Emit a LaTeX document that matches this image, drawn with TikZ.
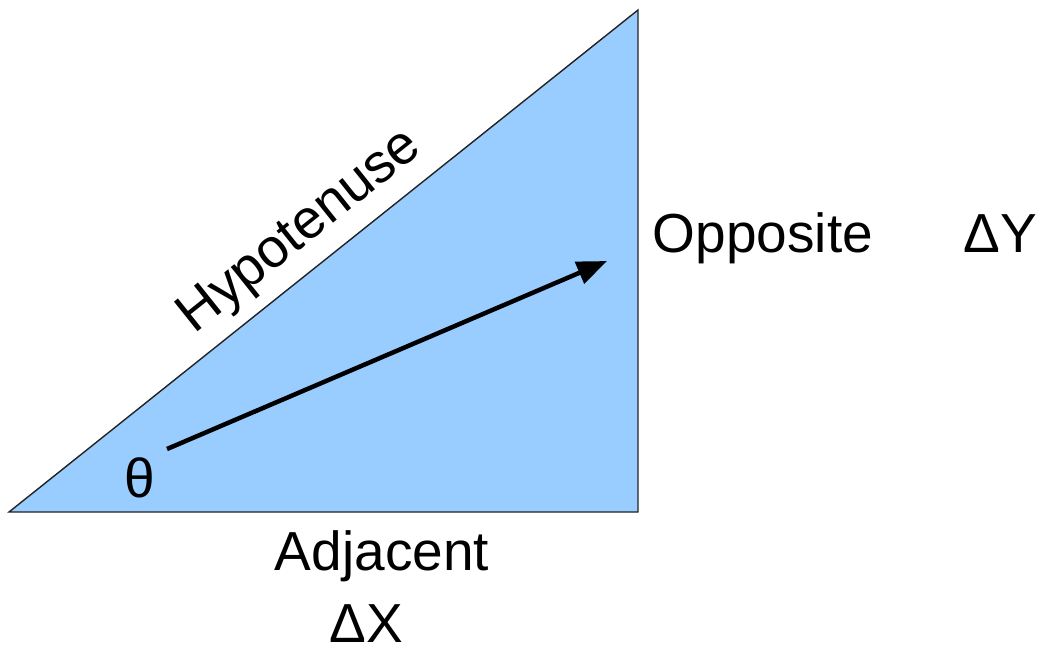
\documentclass[tikz,border=0pt]{standalone}
\usepackage{fontspec}
\setmainfont{Liberation Sans}
\usetikzlibrary{arrows.meta}
\definecolor{trifill}{HTML}{99CCFF}
\definecolor{triline}{HTML}{222222}
\begin{document}
\begin{tikzpicture}[x=1pt,y=-1pt,
  lbl/.style={inner sep=0pt,anchor=base,font=\fontsize{55}{62}\selectfont},
  vec/.style={line width=4.5pt,-{Triangle[length=30pt,width=23pt]}}]
\useasboundingbox (0,0) rectangle (1043,651);
\coordinate (A) at (9,512);
\coordinate (B) at (638,512);
\coordinate (C) at (638,10);
\filldraw[fill=trifill,draw=triline,line width=1.4pt,line join=miter] (A) -- (B) -- (C) -- cycle;
\coordinate (s) at (167,449);
\coordinate (e) at (607,261);
\draw[vec] (s) -- (e);
\node[lbl] (hyp) at (309,243) [rotate=38.6] {Hypotenuse};
\node[lbl] (opp) at (763,252) {Opposite};
\node[lbl] (dy) at (1000,252) {ΔY};
\node[lbl] (adj) at (382,570) {Adjacent};
\node[lbl] (dx) at (366,642) {ΔX};
\node[lbl] (th) at (140,497) {θ};
\end{tikzpicture}
\end{document}
